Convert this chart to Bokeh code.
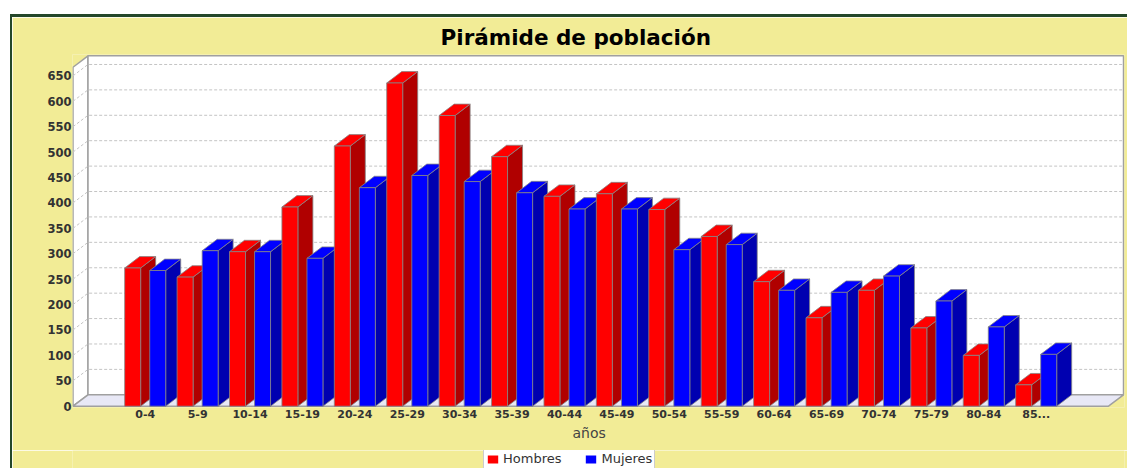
from bokeh.plotting import figure
from bokeh.models import (Range1d, FixedTicker, ColumnDataSource, Legend, LegendItem,
                          Title, Spacer)
from bokeh.layouts import column, row
from bokeh.embed import file_html
from bokeh.resources import INLINE

# ---------------- data ----------------
categories = ["0-4", "5-9", "10-14", "15-19", "20-24", "25-29", "30-34", "35-39",
              "40-44", "45-49", "50-54", "55-59", "60-64", "65-69", "70-74",
              "75-79", "80-84", "85..."]
hombres = [272, 254, 304, 392, 512, 636, 572, 491, 413, 418, 387, 334, 245, 174,
           228, 154, 100, 42]
mujeres = [267, 306, 304, 291, 430, 454, 442, 420, 388, 388, 308, 318, 228, 224,
           256, 207, 156, 102]
y_ticks = list(range(0, 651, 50))
series_names = ["Hombres", "Mujeres"]
title_text = "Pirámide de población"
x_title = "años"

# ---------------- style / geometry ----------------
YELLOW = "#f2ec96"
GREEN = "#24472a"
RED, RED_DARK = "#ff0000", "#b00000"
BLUE, BLUE_DARK = "#0000ff", "#0000b0"
EDGE = "#858585"
WALL_EDGE = "#a0a0a0"
FLOOR = "#e8e8f6"
GRID = "#c4c4c4"

FIG_W, FIG_H = 1115, 433
LEG_H = 18
MB_L, MB_R, MB_T, MB_B = 60, 3, 37, 43
FRAME_W = FIG_W - MB_L - MB_R
FRAME_H = FIG_H - MB_T - MB_B

PX_PER_CAT = 52.41          # px per category
PX_PER_UNIT = 0.5082        # px per value unit
x_start = -72.7 / PX_PER_CAT
x_end = x_start + FRAME_W / PX_PER_CAT
y_start = -1.3 / PX_PER_UNIT
y_end = y_start + FRAME_H / PX_PER_UNIT

DX = 15.0 / PX_PER_CAT      # 3D depth offset (x)
DY = 11.4 / PX_PER_UNIT     # 3D depth offset (y)
XL = -72.2 / PX_PER_CAT     # front-left edge of plot
XR = 963.3 / PX_PER_CAT     # front-right edge of plot
YTOP = 667.0                # axis upper bound
BW = 0.305                  # bar width (category units)
OFF = 0.239                 # bar centre offset from category centre

p = figure(width=FIG_W, height=FIG_H, output_backend="svg", toolbar_location=None,
           x_range=Range1d(x_start, x_end), y_range=Range1d(y_start, y_end),
           min_border_left=MB_L, min_border_right=MB_R, min_border_top=MB_T,
           min_border_bottom=MB_B, background_fill_color=YELLOW,
           border_fill_color=YELLOW, outline_line_color=None, title=title_text)
p.xgrid.visible = False
p.ygrid.visible = False

p.title.align = "left"
p.title.offset = 368
p.title.standoff = 10
p.title.text_font = "DejaVu Sans"
p.title.text_font_size = "21.5px"
p.title.text_font_style = "bold"
p.title.text_color = "#000000"

# walls
p.patch([XL, XL, XL + DX, XL + DX], [0, YTOP, YTOP + DY, DY], fill_color="white",
        line_color=WALL_EDGE, line_width=1.5)
p.quad(left=XL + DX, right=XR + DX, bottom=DY, top=YTOP + DY, fill_color="white",
       line_color=WALL_EDGE, line_width=1.5)
p.patch([XL, XR, XR + DX, XL + DX], [0, 0, DY, DY], fill_color=FLOOR,
        line_color=WALL_EDGE, line_width=1.5)

# gridlines (left wall diagonal + back wall)
gx, gy = [], []
for t in y_ticks[1:]:
    gx.append([XL, XL + DX, XR + DX])
    gy.append([t, t + DY, t + DY])
p.multi_line(gx, gy, line_color=GRID, line_width=1, line_dash="3 2")

# 3D bars, painter's order left to right
xs, ys, colors = [], [], []
for i in range(len(categories)):
    for s, (vals, fc, sc) in enumerate([(hombres, RED, RED_DARK), (mujeres, BLUE, BLUE_DARK)]):
        v = vals[i]
        c = i + (-OFF if s == 0 else OFF)
        x0, x1 = c - BW / 2, c + BW / 2
        xs.append([x1, x1 + DX, x1 + DX, x1]); ys.append([0, DY, v + DY, v]); colors.append(sc)
        xs.append([x0, x1, x1 + DX, x0 + DX]); ys.append([v, v, v + DY, v + DY]); colors.append(fc)
        xs.append([x0, x1, x1, x0]); ys.append([0, 0, v, v]); colors.append(fc)
src = ColumnDataSource(dict(xs=xs, ys=ys, color=colors))
bars = p.patches("xs", "ys", source=src, fill_color="color", line_color=EDGE, line_width=0.8)

# axes
p.yaxis.ticker = FixedTicker(ticks=y_ticks)
p.yaxis.axis_line_color = None
p.yaxis.major_tick_line_color = None
p.yaxis.minor_tick_line_color = None
p.yaxis.major_tick_out = 0
p.yaxis.major_label_standoff = 1
p.yaxis.major_label_text_font = "DejaVu Sans"
p.yaxis.major_label_text_font_size = "11.5px"
p.yaxis.major_label_text_font_style = "bold"
p.yaxis.major_label_text_color = "#333333"

p.xaxis.ticker = FixedTicker(ticks=list(range(len(categories))))
p.xaxis.major_label_overrides = {i: c for i, c in enumerate(categories)}
p.xaxis.axis_line_color = None
p.xaxis.major_tick_line_color = None
p.xaxis.minor_tick_line_color = None
p.xaxis.major_tick_out = 0
p.xaxis.major_label_standoff = 2
p.xaxis.major_label_text_font = "DejaVu Sans"
p.xaxis.major_label_text_font_size = "11px"
p.xaxis.major_label_text_font_style = "bold"
p.xaxis.major_label_text_color = "#333333"

p.add_layout(Title(text=x_title, align="left", offset=500, standoff=4,
                   text_font="DejaVu Sans", text_font_size="14px",
                   text_font_style="normal", text_color="#444444"), "below")

# legend strip
p2 = figure(width=FIG_W, height=LEG_H, output_backend="svg", toolbar_location=None,
            x_range=Range1d(0, 1), y_range=Range1d(0, 1),
            x_axis_type=None, y_axis_type=None,
            min_border_left=MB_L, min_border_right=MB_R, min_border_top=0, min_border_bottom=0,
            background_fill_color=YELLOW, border_fill_color=YELLOW, outline_line_color=None)
# zero-size swatch renderers: they only carry the legend colours
r_h = p2.rect(x=[0.5], y=[0.5], width=0, height=0, fill_color=RED, line_color=None)
r_m = p2.rect(x=[0.5], y=[0.5], width=0, height=0, fill_color=BLUE, line_color=None)
legend = Legend(items=[LegendItem(label=series_names[0], renderers=[r_h]),
                       LegendItem(label=series_names[1], renderers=[r_m])],
                orientation="horizontal", location=(411, -1),
                glyph_width=13, glyph_height=10, label_height=12, label_standoff=4,
                spacing=23, padding=2, margin=0,
                label_text_font="DejaVu Sans", label_text_font_size="13px",
                label_text_color="#333333",
                border_line_color="#9a9a9a", border_line_width=1,
                background_fill_color="white", background_fill_alpha=1)
p2.add_layout(legend)

top_bar = row(Spacer(width=10, height=3),
              Spacer(width=FIG_W + 2, height=3, styles={"background-color": GREEN}))
body = row(Spacer(width=10, height=FIG_H + LEG_H),
           Spacer(width=2, height=FIG_H + LEG_H, styles={"background-color": GREEN}),
           column(p, p2))
layout = column(Spacer(width=FIG_W + 12, height=14), top_bar, body)

open("out.html", "w").write(file_html(layout, INLINE))
